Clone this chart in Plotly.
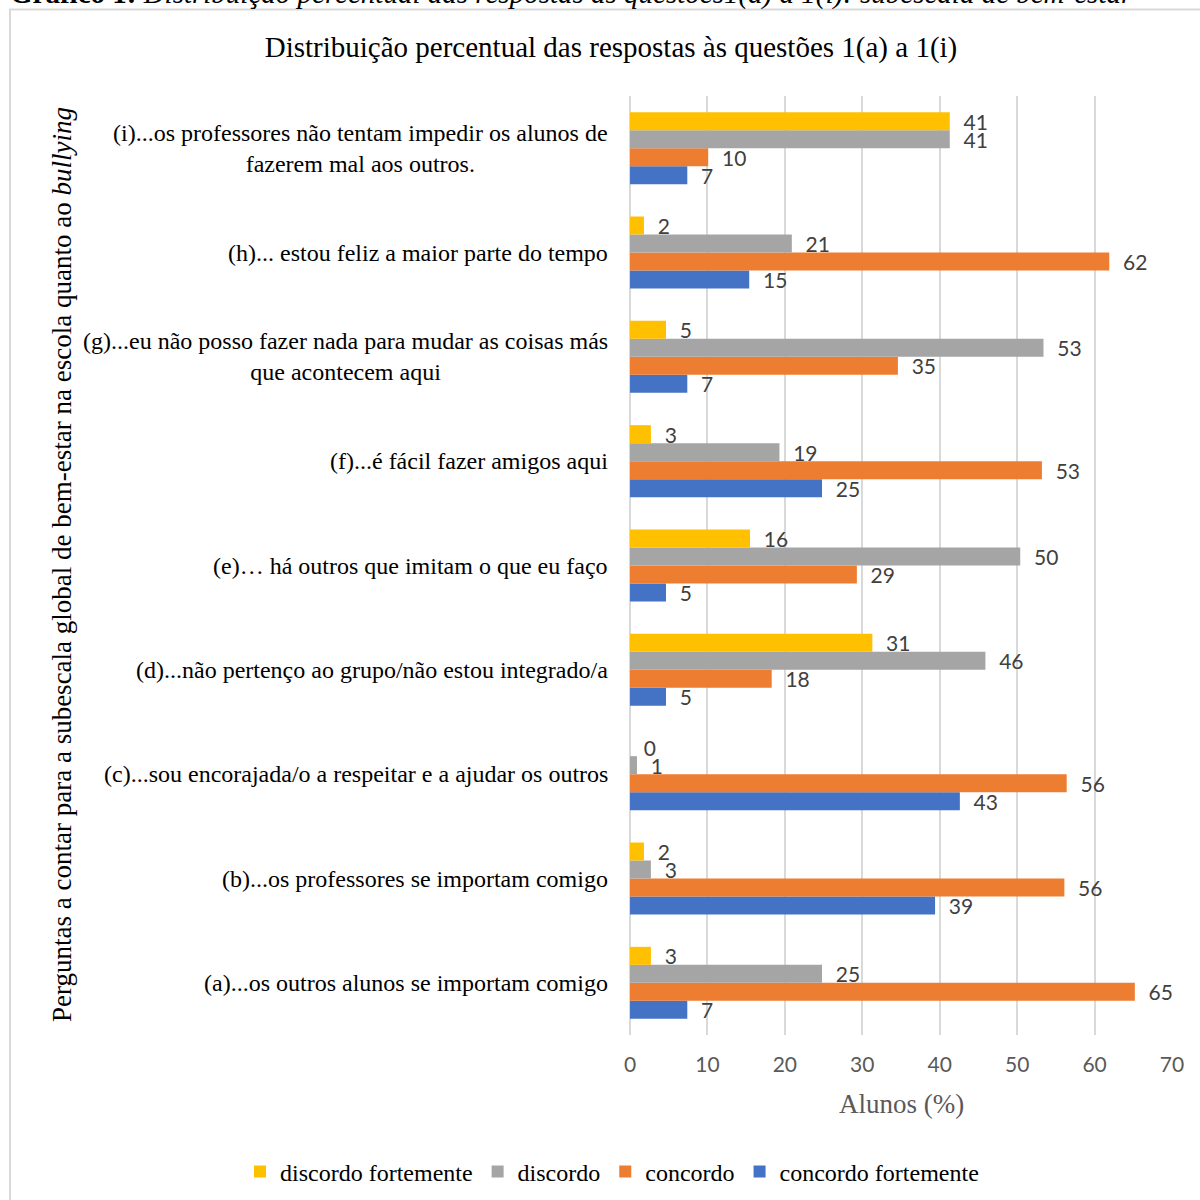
import plotly.graph_objects as go

categories = [
    "(a)...os outros alunos se importam comigo",
    "(b)...os professores se importam comigo",
    "(c)...sou encorajada/o a respeitar e a ajudar os outros",
    "(d)...não pertenço ao grupo/não estou integrado/a",
    "(e)… há outros que imitam o que eu faço",
    "(f)...é fácil fazer amigos aqui",
    "(g)...eu não posso fazer nada para mudar as coisas más<br>que acontecem aqui",
    "(h)... estou feliz a maior parte do tempo",
    "(i)...os professores não tentam impedir os alunos de<br>fazerem mal aos outros.",
]
cat_keys = ["a", "b", "c", "d", "e", "f", "g", "h", "i"]

concordo_fortemente = [7.4, 39.4, 42.6, 4.65, 4.65, 24.8, 7.4, 15.4, 7.4]
concordo = [65.2, 56.1, 56.4, 18.3, 29.3, 53.2, 34.6, 61.9, 10.1]
discordo = [24.8, 2.7, 0.9, 45.9, 50.4, 19.3, 53.4, 20.9, 41.3]
discordo_fortemente = [2.7, 1.8, 0.0, 31.3, 15.5, 2.7, 4.65, 1.8, 41.3]

series = [
    ("concordo fortemente", concordo_fortemente, "#4472C4"),
    ("concordo", concordo, "#ED7D31"),
    ("discordo", discordo, "#A5A5A5"),
    ("discordo fortemente", discordo_fortemente, "#FFC000"),
]

title_text = "Distribuição percentual das respostas às questões 1(a) a 1(i)"
caption_text = ("<b>Gráfico 1:</b> <i>Distribuição percentual das respostas às questões1(a) a 1(i): "
                "subescala de bem-estar</i>")
ytitle_text = "Perguntas a contar para a subescala global de bem-estar na escola quanto ao <i>bullying</i>"
xtitle_text = "Alunos (%)"

W, H = 1200, 1200
L, R, T, B = 630, 28, 96, 165
pw, ph = W - L - R, H - T - B

def px_x(p):
    return (p - L) / pw

def px_y(p):
    return (H - B - p) / ph

serif = "Liberation Serif, Times New Roman, serif"
sans = "Lato, Calibri, sans-serif"

fig = go.Figure()
for name, vals, color in series:
    fig.add_trace(go.Bar(
        y=cat_keys, x=vals, name=name, orientation="h",
        marker=dict(color=color, line=dict(width=0)),
        texttemplate="\u00a0\u00a0%{x:.0f}", textposition="outside",
        textfont=dict(family=sans, size=21, color="#404040"),
        constraintext="none", cliponaxis=False,
    ))

annotations = []
for key, label in zip(cat_keys, categories):
    annotations.append(dict(
        x=0, xref="paper", y=key, yref="y", text=label, showarrow=False,
        xanchor="right", yanchor="middle", align="center", xshift=-20,
        font=dict(family=serif, size=24, color="#000000"),
    ))

annotations.append(dict(
    x=px_x(62), y=px_y(565), xref="paper", yref="paper", text=ytitle_text,
    textangle=-90, showarrow=False, xanchor="center", yanchor="middle",
    font=dict(family=serif, size=27, color="#000000"),
))
annotations.append(dict(
    x=px_x(901), y=px_y(1104), xref="paper", yref="paper", text=xtitle_text,
    showarrow=False, xanchor="center", yanchor="middle",
    font=dict(family=serif, size=27, color="#595959"),
))
annotations.append(dict(
    x=px_x(8), y=px_y(-6), xref="paper", yref="paper", text=caption_text,
    showarrow=False, xanchor="left", yanchor="middle",
    font=dict(family=serif, size=29, color="#000000"),
))

fig.update_layout(
    width=W, height=H,
    margin=dict(l=L, r=R, t=T, b=B, pad=0, autoexpand=False),
    paper_bgcolor="white", plot_bgcolor="white",
    barmode="group", bargap=0.31, bargroupgap=0,
    title=dict(text=title_text, x=611 / W, xref="container", y=1 - 47 / H,
               yref="container", xanchor="center", yanchor="middle",
               font=dict(family=serif, size=29, color="#000000")),
    xaxis=dict(range=[0, 70], dtick=10, showgrid=True, gridcolor="#D9D9D9",
               gridwidth=1.5, zeroline=True, zerolinecolor="#D9D9D9", zerolinewidth=1.5,
               showline=False, ticks="", ticklabelstandoff=15,
               tickfont=dict(family=sans, size=21, color="#595959")),
    yaxis=dict(categoryorder="array", categoryarray=cat_keys, showticklabels=False,
               showgrid=False, zeroline=False, showline=False, ticks=""),
    legend=dict(orientation="h", x=px_x(240), y=px_y(1172), xref="paper",
                yref="paper", xanchor="left", yanchor="middle",
                traceorder="reversed",
                font=dict(family=serif, size=24, color="#000000")),
    annotations=annotations,
    shapes=[dict(type="rect", xref="paper", yref="paper",
                 x0=px_x(10), x1=px_x(1230), y0=px_y(9.5), y1=px_y(1230),
                 line=dict(color="#D9D9D9", width=2), fillcolor="rgba(0,0,0,0)",
                 layer="below")],
    showlegend=True,
)

fig.write_html("out.html")
